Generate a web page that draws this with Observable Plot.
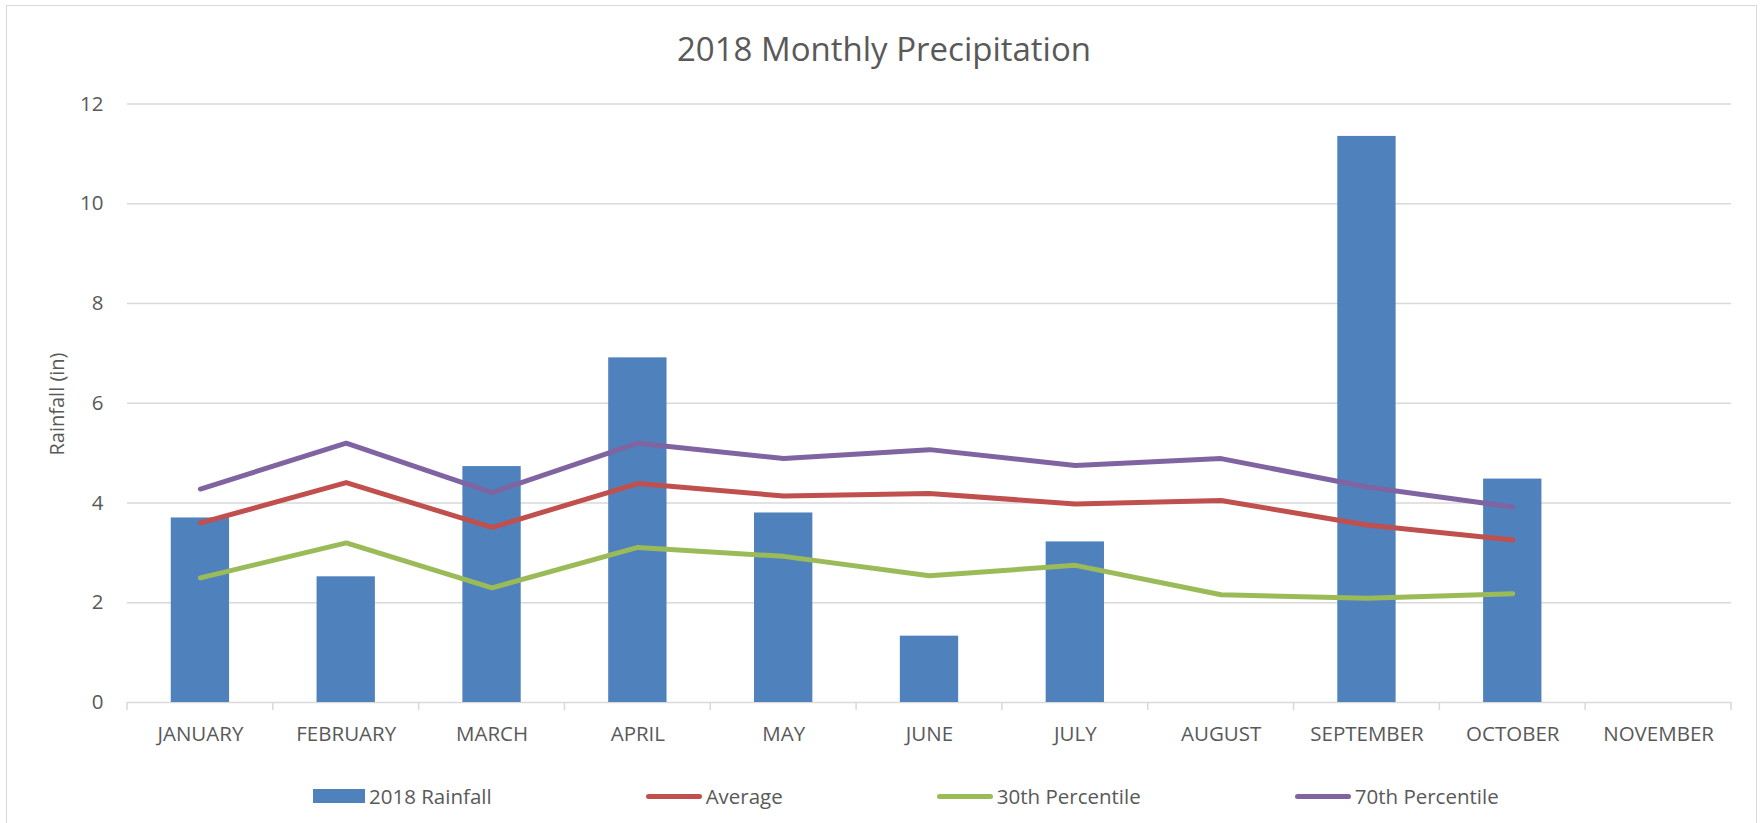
<!DOCTYPE html>
<html><head><meta charset="utf-8">
<script src="https://cdn.jsdelivr.net/npm/d3@7"></script>
<script src="https://cdn.jsdelivr.net/npm/@observablehq/plot@0.6"></script>
<style>
body{margin:0;background:#fff;font-family:"Open Sans",sans-serif;}
#wrap{position:relative;width:1762px;height:823px;overflow:hidden;background:#fff;}
#frame{position:absolute;left:6px;top:5px;width:1751px;height:840px;border:1.5px solid #d9d9d9;box-sizing:border-box;}
#chart{position:absolute;left:0;top:0;}
#title{position:absolute;left:0;width:1768px;top:26px;text-align:center;font-size:33px;color:#595959;white-space:nowrap;}
#ytitle{position:absolute;left:56px;top:404px;transform:translate(-50%,-50%) rotate(-90deg);font-size:20px;color:#595959;white-space:nowrap;}
#legend{position:absolute;left:313px;top:782px;display:flex;gap:154px;font-size:20.5px;color:#595959;white-space:nowrap;}
.item{display:flex;align-items:center;gap:4px;}
.sw-bar{width:52px;height:14px;}
.sw-line{width:56px;height:5px;border-radius:3px;}
</style></head>
<body>
<div id="wrap">
  <div id="frame"></div>
  <div id="chart"></div>
  <div id="title"></div>
  <div id="ytitle"></div>
  <div id="legend"></div>
</div>
<script>
const titleText = "2018 Monthly Precipitation";
const yTitle = "Rainfall (in)";
const months = ["JANUARY","FEBRUARY","MARCH","APRIL","MAY","JUNE","JULY","AUGUST","SEPTEMBER","OCTOBER","NOVEMBER"];
const rainfall2018 = [3.70, 2.52, 4.73, 6.91, 3.80, 1.33, 3.22, null, 11.35, 4.48, null];
const average      = [3.60, 4.41, 3.51, 4.39, 4.14, 4.19, 3.98, 4.05, 3.56, 3.26, null];
const pct30        = [2.50, 3.20, 2.30, 3.11, 2.93, 2.54, 2.75, 2.16, 2.09, 2.18, null];
const pct70        = [4.28, 5.20, 4.21, 5.20, 4.89, 5.07, 4.75, 4.89, 4.32, 3.92, null];
const seriesNames = ["2018 Rainfall", "Average", "30th Percentile", "70th Percentile"];
const seriesColors = ["#4F81BD", "#C0504D", "#9BBB59", "#8064A2"];
const yTicks = [0, 2, 4, 6, 8, 10, 12];

const barRows = months.map((m, i) => ({month: m, value: rainfall2018[i]})).filter(d => d.value != null);
const lineSeries = [average, pct30, pct70];
const lineRows = lineSeries.flatMap((arr, s) =>
  months.map((m, i) => ({month: m, value: arr[i], series: seriesNames[s + 1]})).filter(d => d.value != null));

const gridColor = "#d9d9d9";

function categoryTicks(index, scales, values, dimensions) {
  const x = scales.x, y = scales.y;
  const step = x(months[1]) - x(months[0]);
  const bw = typeof x.bandwidth === "function" ? x.bandwidth() : step * 0.4;
  const off = (step - bw) / 2;
  const y0 = y(0);
  const g = d3.create("svg:g");
  const bounds = months.map(m => x(m) - off).concat([x(months[months.length - 1]) - off + step]);
  g.selectAll("line").data(bounds).join("line")
    .attr("x1", d => d).attr("x2", d => d)
    .attr("y1", y0).attr("y2", y0 + 8)
    .attr("stroke", gridColor).attr("stroke-width", 1.5);
  return g.node();
}

const plot = Plot.plot({
  width: 1762,
  height: 823,
  marginTop: 103.5,
  marginBottom: 121,
  marginLeft: 127,
  marginRight: 31,
  style: {fontFamily: "'Open Sans', sans-serif", fontSize: "20.5px", color: "#595959", background: "transparent", overflow: "visible"},
  x: {domain: months, paddingInner: 0.6, paddingOuter: 0.3, round: false, label: null, tickSize: 0, tickPadding: 24},
  y: {domain: [0, 12], ticks: yTicks, label: null, tickSize: 0, tickPadding: 24},
  color: {domain: seriesNames.slice(1), range: seriesColors.slice(1)},
  marks: [
    Plot.ruleY(yTicks, {stroke: gridColor, strokeWidth: 1.5}),
    categoryTicks,
    Plot.barY(barRows, {x: "month", y: "value", fill: seriesColors[0]}),
    Plot.line(lineRows, {x: "month", y: "value", z: "series", stroke: "series", strokeWidth: 5, strokeLinecap: "round", strokeLinejoin: "round"})
  ]
});
document.getElementById("chart").appendChild(plot);
document.getElementById("title").textContent = titleText;
document.getElementById("ytitle").textContent = yTitle;

const legend = document.getElementById("legend");
seriesNames.forEach((name, i) => {
  const item = document.createElement("div");
  item.className = "item";
  const sw = document.createElement("div");
  sw.className = i === 0 ? "sw-bar" : "sw-line";
  sw.style.background = seriesColors[i];
  const label = document.createElement("span");
  label.textContent = name;
  item.appendChild(sw);
  item.appendChild(label);
  legend.appendChild(item);
});
</script>
</body></html>
